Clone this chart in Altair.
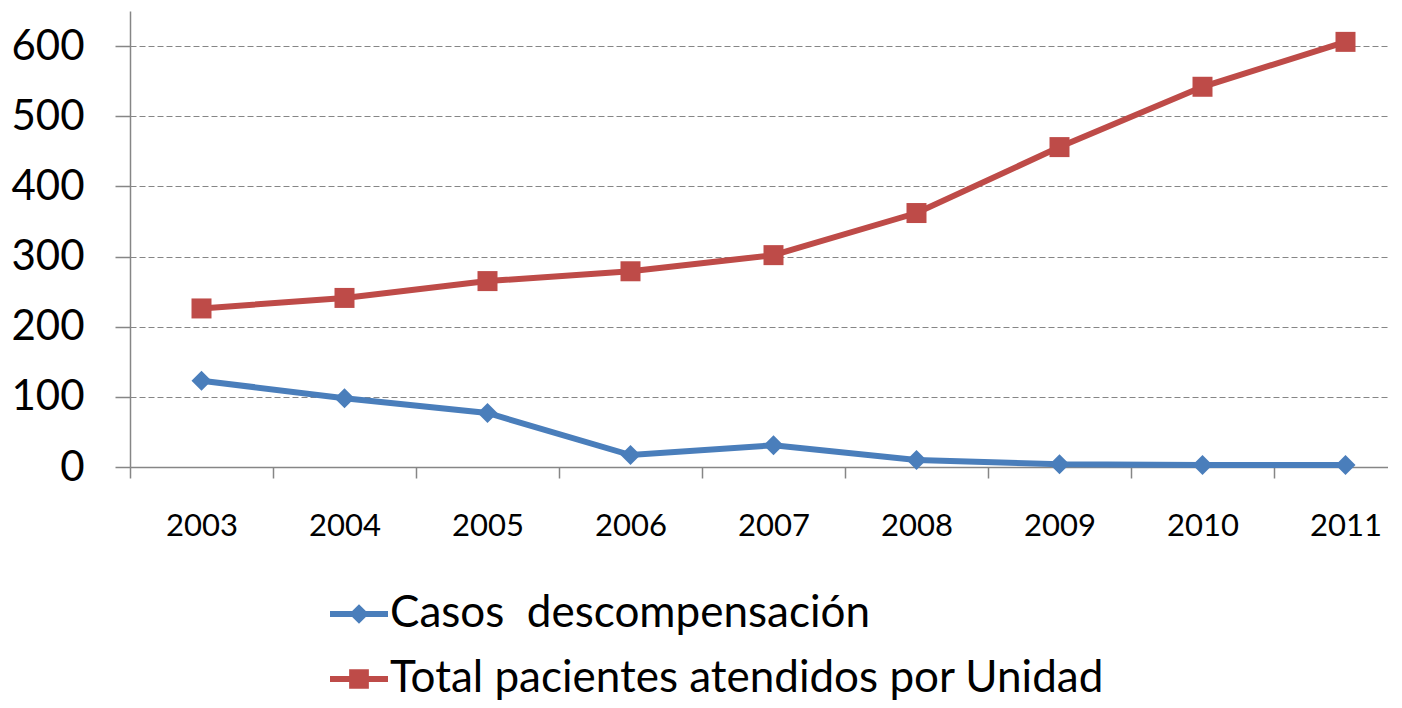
import altair as alt
import pandas as pd

years = [2003, 2004, 2005, 2006, 2007, 2008, 2009, 2010, 2011]
casos = [123, 98, 77, 17, 31, 10, 4, 3, 3]
total = [226, 241, 265, 279, 302, 362, 456, 542, 606]
series_names = ["Casos  descompensación", "Total pacientes atendidos por Unidad"]
colors = ["#4A7EBB", "#BE4B48"]
shapes = ["diamond", "square"]
y_ticks = [0, 100, 200, 300, 400, 500, 600]

rows = []
for yr, c, t in zip(years, casos, total):
    rows.append({"year": yr, "value": c, "serie": series_names[0]})
    rows.append({"year": yr, "value": t, "serie": series_names[1]})
df = pd.DataFrame(rows)

W = 1258
H = 456
step = 143.0
x_dom = [2002.5, 2002.5 + W / step]

FONT = "Lato"
GRAY = "#868686"

# legend glyphs: a line segment with the series marker in its middle
diamond_line = "M-1,-0.1H1V0.1H-1Z M0,-0.34L0.34,0L0,0.34L-0.34,0Z"
square_line = "M-1,-0.1H1V0.1H-1Z M-0.34,-0.34H0.34V0.34H-0.34Z"

x_enc = alt.X(
    "year:Q",
    scale=alt.Scale(domain=x_dom, nice=False, zero=False),
    axis=alt.Axis(
        values=years,
        format="d",
        title=None,
        grid=False,
        tickOffset=-step / 2,
        labelOffset=step / 2,
        tickSize=11,
        tickColor=GRAY,
        tickWidth=1.5,
        domainColor=GRAY,
        domainWidth=1.5,
        labelFont=FONT,
        labelFontSize=31,
        labelColor="black",
        labelPadding=33,
        labelFlush=False,
    ),
)
y_enc = alt.Y(
    "value:Q",
    scale=alt.Scale(domain=[0, 650], nice=False),
    axis=alt.Axis(
        values=y_ticks,
        title=None,
        grid=True,
        gridColor=GRAY,
        gridDash=[6, 3],
        gridWidth=1,
        tickSize=15,
        tickColor=GRAY,
        tickWidth=1.5,
        domainColor=GRAY,
        domainWidth=1.5,
        labelFont=FONT,
        labelFontSize=42,
        labelColor="black",
        labelPadding=31,
    ),
)

color_scale = alt.Scale(domain=series_names, range=colors)


def make_legend():
    return alt.Legend(
        title=None,
        orient="none",
        legendX=200,
        legendY=574,
        direction="vertical",
        labelFont=FONT,
        labelFontSize=44,
        labelColor="black",
        labelOffset=2,
        labelExpr="replace(datum.label, '  ', ' \u00a0')",
        symbolSize=3364,
        symbolStrokeWidth=0,
        symbolOpacity=1,
        rowPadding=14,
        labelLimit=1000,
    )


lines = alt.Chart(df).mark_line(strokeWidth=6).encode(
    x=x_enc,
    y=y_enc,
    color=alt.Color("serie:N", scale=color_scale, legend=None),
    detail="serie:N",
)

points = alt.Chart(df).mark_point(filled=True, size=400, opacity=1, strokeWidth=0).encode(
    x=x_enc,
    y=y_enc,
    color=alt.Color("serie:N", scale=color_scale, legend=None),
    shape=alt.Shape(
        "serie:N",
        scale=alt.Scale(domain=series_names, range=shapes),
        legend=None,
    ),
)

legend_layer = (
    alt.Chart(df)
    .transform_filter("false")
    .mark_point(filled=True, opacity=1, strokeWidth=0)
    .encode(
        x=x_enc,
        y=y_enc,
        color=alt.Color("serie:N", scale=color_scale, legend=make_legend()),
        shape=alt.Shape(
            "serie:N",
            scale=alt.Scale(domain=series_names, range=[diamond_line, square_line]),
            legend=make_legend(),
        ),
    )
)

chart = (
    alt.layer(lines, points, legend_layer)
    .resolve_scale(shape="independent", color="independent")
    .properties(
        width=W,
        height=H,
        autosize=alt.AutoSizeParams(type="none"),
        padding={"left": 122, "top": 3, "right": 0, "bottom": 233},
    )
    .configure_view(stroke=None)
)
chart.save("out.html", embed_options={"renderer": "svg", "actions": False})
